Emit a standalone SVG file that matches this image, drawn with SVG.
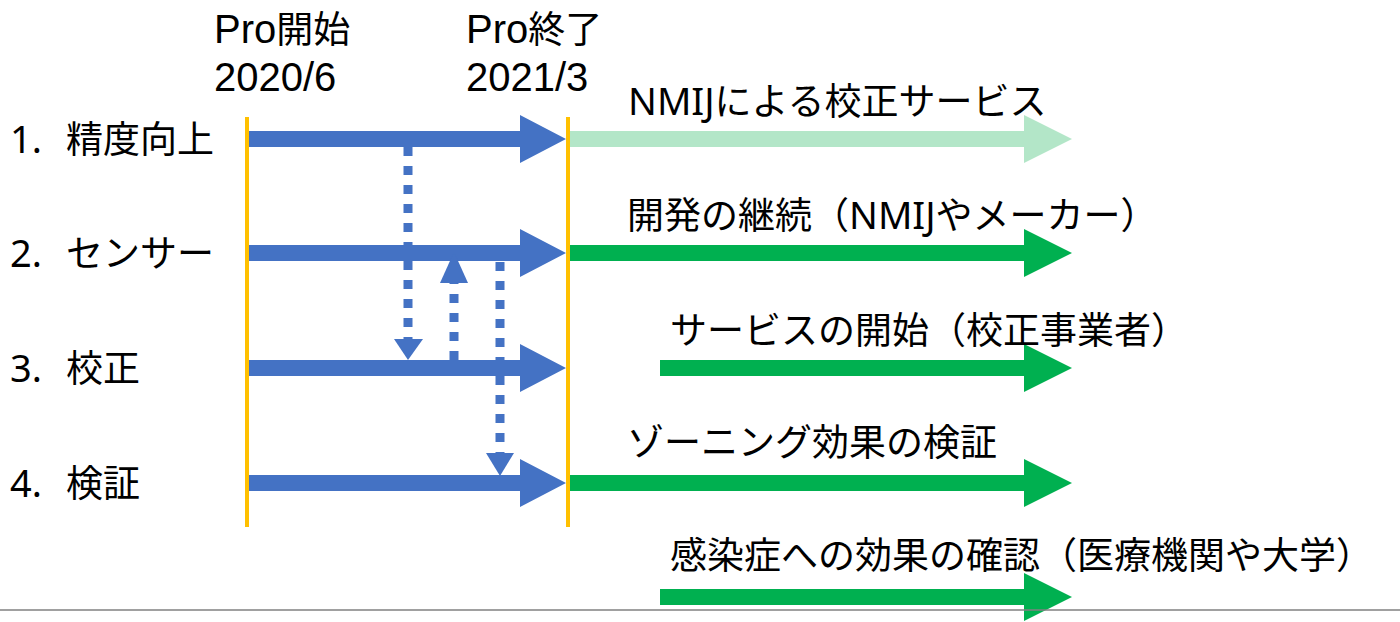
<svg xmlns="http://www.w3.org/2000/svg" width="1400" height="622" viewBox="0 0 1400 622">
<style>
text{font-family:"Noto Sans CJK JP","Noto Sans",sans-serif;font-size:37px;fill:#000}
.l{font-family:"Liberation Sans","Noto Sans CJK JP",sans-serif;font-size:40px}
.n{font-family:"Noto Sans","Noto Sans CJK JP",sans-serif;font-size:38px}
.blue{fill:#4472C4}
.green{fill:#00B050}
.lgreen{fill:#B3E6C8}
.dot{stroke:#4472C4;stroke-width:9;stroke-dasharray:9 10;fill:none}
.mile{stroke:#FFC000;stroke-width:4}
</style>
<rect width="1400" height="622" fill="#fff"/>
<g id="label-start">
<text><tspan x="214" y="43" class="l">Pro</tspan><tspan>開始</tspan><tspan x="214" y="90.5" class="l">2020/6</tspan></text>
</g>
<g id="label-end">
<text><tspan x="466" y="43" class="l">Pro</tspan><tspan>終了</tspan><tspan x="466" y="90.5" class="l">2021/3</tspan></text>
</g>
<g id="row-labels">
<text y="153"><tspan x="10" class="n">1.</tspan><tspan x="66">精度向上</tspan></text>
<text y="267"><tspan x="10" class="n">2.</tspan><tspan x="66">センサー</tspan></text>
<text y="382"><tspan x="10" class="n">3.</tspan><tspan x="66">校正</tspan></text>
<text y="497"><tspan x="10" class="n">4.</tspan><tspan x="66">検証</tspan></text>
</g>
<g id="milestones">
<line class="mile" x1="247" y1="117" x2="247" y2="527"/>
<line class="mile" x1="568" y1="117" x2="568" y2="527"/>
</g>
<g id="connectors">
<polygon class="blue" points="249,131 520,131 520,115 566,139 520,163 520,147 249,147"/>
<polygon class="blue" points="249,245 520,245 520,229 566,253 520,277 520,261 249,261"/>
<polygon class="blue" points="249,360 520,360 520,344 566,368 520,392 520,376 249,376"/>
<polygon class="blue" points="249,475 520,475 520,459 566,483 520,507 520,491 249,491"/>
<line class="dot" x1="408" y1="147" x2="408" y2="340"/>
<polygon class="blue" points="394,339 423,339 408,360"/>
<line class="dot" x1="454" y1="360" x2="454" y2="282"/>
<polygon class="blue" points="440,283 468,283 454,252"/>
<line class="dot" x1="500" y1="262" x2="500" y2="454"/>
<polygon class="blue" points="486,453 514,453 500,476"/>
<polygon class="lgreen" points="570,131 1024,131 1024,115 1072,139 1024,163 1024,147 570,147"/>
<polygon class="green" points="570,245 1024,245 1024,229 1072,253 1024,277 1024,261 570,261"/>
<polygon class="green" points="660,360 1024,360 1024,344 1072,368 1024,392 1024,376 660,376"/>
<polygon class="green" points="570,475 1024,475 1024,459 1072,483 1024,507 1024,491 570,491"/>
<polygon class="green" points="660,589 1024,589 1024,573 1072,597 1024,621 1024,605 660,605"/>
</g>
<g id="labels-right">
<text x="628" y="115"><tspan class="n">NMIJ</tspan>による校正サービス</text>
<text x="627" y="229">開発の継続（<tspan class="n">NMIJ</tspan>やメーカー）</text>
<text x="670" y="344">サービスの開始（校正事業者）</text>
<text x="627" y="456">ゾーニング効果の検証</text>
<text x="670" y="569">感染症への効果の確認（医療機関や大学）</text>
</g>
<line x1="0" y1="610" x2="1400" y2="610" stroke="#808080" stroke-width="1.5"/>
</svg>
